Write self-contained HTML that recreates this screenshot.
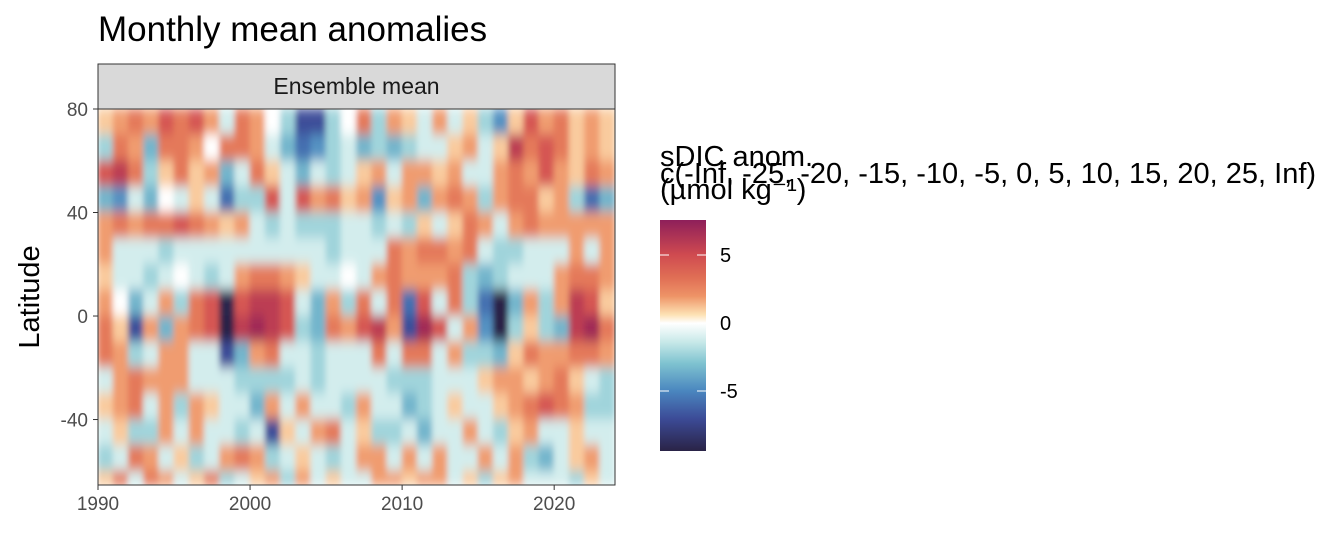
<!DOCTYPE html>
<html><head><meta charset="utf-8"><style>
body{margin:0;background:#fff;}
svg text{font-family:"Liberation Sans",sans-serif;}
</style></head><body>
<svg id="chart" width="1344" height="537" xmlns="http://www.w3.org/2000/svg">
<defs>
<filter id="blur" filterUnits="userSpaceOnUse" x="90" y="100" width="535" height="395"><feGaussianBlur stdDeviation="3 6" edgeMode="duplicate"/></filter>
<clipPath id="clip"><rect x="98" y="109" width="517" height="376"/></clipPath>
<linearGradient id="grad" x1="0" y1="1" x2="0" y2="0">
<stop offset="0" stop-color="#2a2346"/><stop offset="0.14" stop-color="#3c4b97"/><stop offset="0.26" stop-color="#4a86bf"/><stop offset="0.38" stop-color="#7fc3d0"/><stop offset="0.47" stop-color="#c6e8e8"/><stop offset="0.553" stop-color="#ffffff"/><stop offset="0.59" stop-color="#fde2b4"/><stop offset="0.67" stop-color="#ee9467"/><stop offset="0.75" stop-color="#e06f55"/><stop offset="0.85" stop-color="#cf4a50"/><stop offset="1" stop-color="#8e1f5a"/>
</linearGradient>
</defs>
<text x="98" y="41" font-size="35">Monthly mean anomalies</text>
<rect x="98" y="64" width="517" height="45" fill="#d9d9d9" stroke="#333" stroke-width="1"/>
<text x="356.5" y="94" font-size="23" text-anchor="middle" fill="#1a1a1a">Ensemble mean</text>
<g id="cells" clip-path="url(#clip)"><g id="cellsInner" filter="url(#blur)"></g></g>
<rect x="98" y="109" width="517" height="376" fill="none" stroke="#333" stroke-width="1"/>
<g id="axes"></g>
<text transform="translate(39,297) rotate(-90)" font-size="29" text-anchor="middle">Latitude</text>
<g>
<text x="660" y="166" font-size="29">sDIC anom.</text>
<text x="660" y="183" font-size="29">c(-Inf, -25, -20, -15, -10, -5, 0, 5, 10, 15, 20, 25, Inf)</text>
<text x="660" y="199" font-size="29">(µmol kg⁻¹)</text>
<rect x="660" y="220" width="46" height="231" fill="url(#grad)"/>
<g id="legendTicks"></g>
</g>
</svg>
<script>
const years = [1990,1991,1992,1993,1994,1995,1996,1997,1998,1999,2000,2001,2002,2003,2004,2005,2006,2007,2008,2009,2010,2011,2012,2013,2014,2015,2016,2017,2018,2019,2020,2021,2022,2023];
const latTops = [80,70,60,50,40,30,20,10,0,-10,-20,-30,-40,-50,-60];
const latBottoms = [70,60,50,40,30,20,10,0,-10,-20,-30,-40,-50,-60,-65.3];
const v80 = [1,2,3,2,4,3,4,2,-1,3,2,0,-2,-6,-6,-2,0,3,-2,2,1,-1,2,-1,1,-2,-4,1,4,2,3,1,2,1];
const v70 = [-2,3,2,-3,3,3,2,0,3,3,2,-1,-3,-5,-4,-2,-1,-3,-2,-3,-2,-1,-1,1,2,-1,1,5,3,4,3,1,2,1];
const v60 = [4,5,3,-2,1,3,1,2,-3,-1,3,1,-1,-3,-1,-2,-1,1,2,-1,2,2,1,2,-1,-1,2,3,2,4,2,1,3,2];
const v50 = [-3,-4,-1,-3,0,-1,1,-1,-5,-2,-2,4,-1,4,2,3,1,2,-4,1,2,-3,2,3,2,-2,2,3,3,1,2,-2,-5,-3];
const v40 = [2,3,2,3,3,4,3,2,1,2,-1,-2,-1,-2,-2,-2,-1,-1,-2,-1,-2,1,-1,1,3,2,-1,2,3,2,2,2,2,2];
const v30 = [2,-1,-1,-1,-2,-1,-1,-1,-1,-1,-1,-1,-1,-1,-1,-2,-1,-1,-1,3,2,3,3,2,3,-1,-2,-2,-1,-1,-1,2,-1,2];
const v20 = [1,-1,-1,-2,-1,0,-1,-2,-1,2,3,3,2,1,-1,-1,0,-1,2,3,2,2,2,3,-2,-3,-2,-1,-1,-1,2,3,3,2];
const v10 = [2,0,-3,-1,2,-2,3,4,-8,4,5,5,4,-1,-3,2,-2,3,-1,3,-5,4,-1,3,-2,-5,-9,-3,2,-2,2,5,4,1];
const v0 = [3,1,-6,2,-3,2,3,4,-9,5,6,5,4,-2,-3,3,2,4,5,2,-6,6,4,-1,2,-4,-9,-2,1,-2,-3,5,6,3];
const vm10 = [3,2,-2,-1,2,2,-1,-1,-6,-3,2,3,-1,-1,-2,-1,-1,-1,3,-1,3,3,-1,2,-2,-2,-3,1,3,2,2,3,3,2];
const vm20 = [-1,2,3,2,2,2,-1,-1,-1,-2,-2,-2,-2,-1,-2,-1,-1,-1,-1,-2,-2,-2,-1,-1,-1,1,2,2,1,2,3,1,-1,-2];
const vm30 = [1,2,3,-1,2,-2,2,1,-1,-1,-3,2,-1,2,-1,-1,-2,2,-1,-1,-3,-2,-1,1,-1,-1,1,2,3,4,3,2,-2,-2];
const vm40 = [-1,1,-2,-2,2,-1,2,-1,-1,-2,-1,-6,1,-1,2,3,-1,1,-2,-2,-1,-3,-1,-1,2,-1,-2,1,2,-1,-1,1,-1,-1];
const vm50 = [-2,-1,3,2,-1,1,-2,-1,2,3,2,-2,-1,1,-1,-2,-1,2,2,-1,2,-1,2,-1,-1,2,-1,2,-2,-3,-1,1,2,-1];
const vm60 = [1,3,-1,3,2,-1,1,3,-2,-1,1,2,-2,2,-1,1,-1,-1,2,2,1,2,2,-1,1,-2,1,2,-1,-1,-1,-2,1,-1];
const rows = [v80,v70,v60,v50,v40,v30,v20,v10,v0,vm10,vm20,vm30,vm40,vm50,vm60];
const xTicks = [1990,2000,2010,2020];
const yTicks = [80,40,0,-40];
const legendTicks = [5,0,-5];

const X0=98, X1=615, Y0=109, Y1=485;
const xs = yr => X0 + (yr-1990)*(X1-X0)/(2024-1990);
const ys = lat => Y0 + (80-lat)*(Y1-Y0)/(80+65.3);
const lsc = v => 323 - v*13.6;
const stops=[[-9.4,[42,35,70]],[-7,[60,75,151]],[-5,[74,134,191]],[-3,[127,195,208]],[-1.5,[198,232,232]],[0,[255,255,255]],[0.6,[253,226,180]],[2.5,[238,148,103]],[3.8,[224,111,85]],[5,[207,74,80]],[7.6,[142,31,90]]];
function col(v){
  v=v*1.15;
  if(v<=stops[0][0]) return 'rgb('+stops[0][1]+')';
  for(let i=1;i<stops.length;i++){ if(v<=stops[i][0]){const a=stops[i-1],b=stops[i],t=(v-a[0])/(b[0]-a[0]);return 'rgb('+a[1].map((c,k)=>Math.round(c+(b[1][k]-c)*t))+')';}}
  return 'rgb('+stops[stops.length-1][1]+')';
}
const NS='http://www.w3.org/2000/svg';
const g=document.getElementById('cellsInner');
rows.forEach((r,ri)=>{ r.forEach((v,ci)=>{
  const el=document.createElementNS(NS,'rect');
  const x=xs(years[ci]), x2=xs(years[ci]+1), y=ys(latTops[ri]), y2=ys(latBottoms[ri]);
  el.setAttribute('x',x-0.5);el.setAttribute('y',y-0.5);el.setAttribute('width',x2-x+1);el.setAttribute('height',y2-y+1);
  el.setAttribute('fill',col(v));
  
  
  g.appendChild(el);
});});
const ax=document.getElementById('axes');
xTicks.forEach(t=>{
  const l=document.createElementNS(NS,'line');l.setAttribute('x1',xs(t));l.setAttribute('x2',xs(t));l.setAttribute('y1',485);l.setAttribute('y2',490);l.setAttribute('stroke','#333');
  
  
  ax.appendChild(l);
  const tx=document.createElementNS(NS,'text');tx.setAttribute('x',xs(t));tx.setAttribute('y',510);tx.setAttribute('font-size','19');tx.setAttribute('fill','#4d4d4d');tx.setAttribute('text-anchor','middle');tx.textContent=t;
  
  
  ax.appendChild(tx);
});
yTicks.forEach(t=>{
  const l=document.createElementNS(NS,'line');l.setAttribute('x1',93);l.setAttribute('x2',98);l.setAttribute('y1',ys(t));l.setAttribute('y2',ys(t));l.setAttribute('stroke','#333');
  
  
  ax.appendChild(l);
  const tx=document.createElementNS(NS,'text');tx.setAttribute('x',88);tx.setAttribute('y',ys(t)+7);tx.setAttribute('font-size','19');tx.setAttribute('fill','#4d4d4d');tx.setAttribute('text-anchor','end');tx.textContent=t;
  
  
  ax.appendChild(tx);
});
const lg=document.getElementById('legendTicks');
legendTicks.forEach(t=>{
  [[660,669],[697,706]].forEach(p=>{
    const l=document.createElementNS(NS,'line');l.setAttribute('x1',p[0]);l.setAttribute('x2',p[1]);l.setAttribute('y1',lsc(t));l.setAttribute('y2',lsc(t));l.setAttribute('stroke','#fff');l.setAttribute('stroke-width','1');
    
    
    lg.appendChild(l);
  });
  const tx=document.createElementNS(NS,'text');tx.setAttribute('x',720);tx.setAttribute('y',lsc(t)+7);tx.setAttribute('font-size','20');tx.textContent=t;
  
  
  lg.appendChild(tx);
});
</script>
</body></html>
